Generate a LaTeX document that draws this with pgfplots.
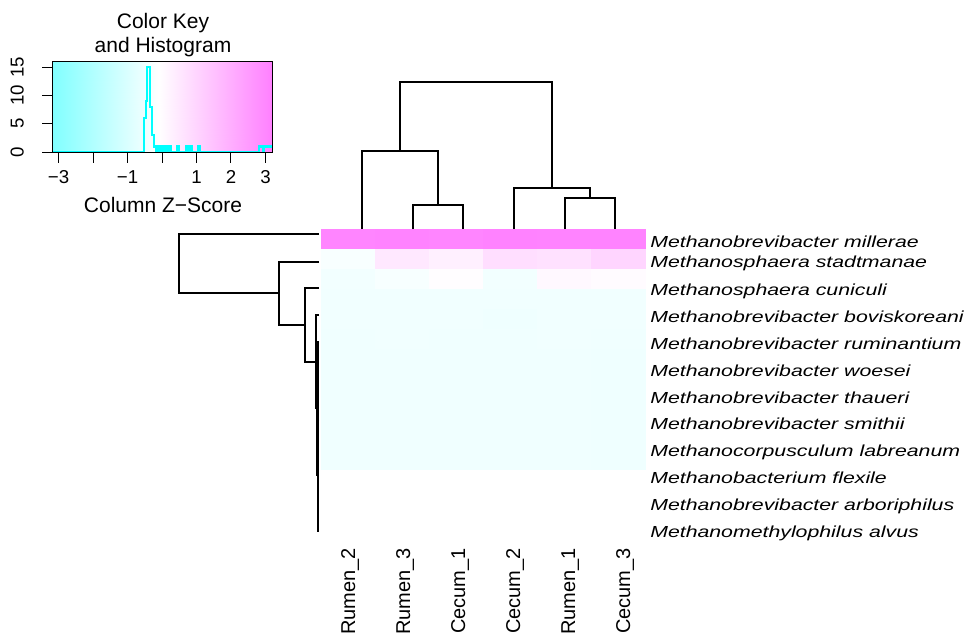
\documentclass[border=0pt]{standalone}
\usepackage{fontspec}
\setmainfont{Liberation Sans}
\newfontfamily\rowfont[FakeStretch=1.33]{Liberation Sans}
\usepackage{pgfplots}
\usepackage{pgfplotstable}
\pgfplotsset{compat=1.18}

\definecolor{histcyan}{RGB}{0,255,255}
\pgfplotsset{
  colormap={cwm}{rgb255(0cm)=(128,255,255) rgb255(3.09cm)=(255,255,255) rgb255(6.38cm)=(255,128,255)},
  dendro/.style={black, line width=1.6pt},
}

% heatmap cells: x = column centre, y = row centre (picture pixels), z = column z-score
\pgfplotstableread{
x   y    z
348 239  3.05
402 239  3.10
456 239  3.05
510 239  3.15
564 239  3.10
618 239  3.12
348 259 -0.27
402 259  0.50
456 259  0.29
510 259  0.75
564 259  0.68
618 259  1.00
348 279 -0.42
402 279 -0.30
456 279 -0.05
510 279 -0.42
564 279  0.08
618 279  0.00
348 299 -0.45
402 299 -0.44
456 299 -0.45
510 299 -0.44
564 299 -0.45
618 299 -0.45
348 319 -0.45
402 319 -0.45
456 319 -0.45
510 319 -0.48
564 319 -0.45
618 319 -0.45
348 339 -0.46
402 339 -0.45
456 339 -0.46
510 339 -0.46
564 339 -0.45
618 339 -0.47
348 359 -0.46
402 359 -0.46
456 359 -0.46
510 359 -0.46
564 359 -0.46
618 359 -0.49
348 379 -0.46
402 379 -0.46
456 379 -0.47
510 379 -0.46
564 379 -0.46
618 379 -0.49
348 399 -0.46
402 399 -0.46
456 399 -0.47
510 399 -0.46
564 399 -0.46
618 399 -0.49
348 419 -0.46
402 419 -0.46
456 419 -0.47
510 419 -0.46
564 419 -0.46
618 419 -0.49
348 439 -0.46
402 439 -0.46
456 439 -0.47
510 439 -0.46
564 439 -0.46
618 439 -0.49
348 459 -0.46
402 459 -0.46
456 459 -0.47
510 459 -0.46
564 459 -0.46
618 459 -0.49
}\heat

% histogram of the z-scores (left edge of each step, count)
\pgfplotstableread{
z      n
-3.19  0
-0.51  6
-0.475 9
-0.43  15
-0.36  8
-0.28  3
-0.24  1
-0.16  0
-0.13  1
-0.07  0
-0.04  1
0.04   0
0.10   1
0.15   0
0.21   1
0.27   0
0.44   1
0.50   0
0.70   1
0.76   0
0.82   1
0.88   0
1.05   1
1.11   0
2.82   1
2.92   0
2.97   1
3.19   1
}\hist

\begin{document}
\begin{tikzpicture}

\begin{axis}[
  at={(0,0)}, anchor=south west,
  width=725.25pt, height=480pt, scale only axis,
  xmin=0, xmax=967, ymin=0, ymax=640, y dir=reverse,
  hide axis, clip=false,
  colormap name=cwm, point meta min=-3.19, point meta max=3.19,
]
\addplot[matrix plot*, mesh/cols=6, point meta=explicit] table[x=x, y=y, meta=z] {\heat};

% column dendrogram
\addplot[dendro] coordinates {(413,229) (413,205) (463,205) (463,229)};
\addplot[dendro] coordinates {(362,229) (362,151) (438,151) (438,205)};
\addplot[dendro] coordinates {(565,229) (565,198) (615,198) (615,229)};
\addplot[dendro] coordinates {(514,229) (514,188) (590,188) (590,198)};
\addplot[dendro] coordinates {(400,151) (400,82) (552,82) (552,188)};

% row dendrogram
\addplot[dendro] coordinates {(319,234) (179,234) (179,293) (279,293)};
\addplot[dendro] coordinates {(319,262) (279,262) (279,325) (305,325)};
\addplot[dendro] coordinates {(319,288) (305,288) (305,362) (316,362)};
\addplot[dendro] coordinates {(319,315) (316,315) (316,408) (317.5,408)};
\addplot[dendro] coordinates {(319,342) (317.5,342) (317.5,475) (318,475)};
\addplot[dendro] coordinates {(319,420) (318,420) (318,531) (319,531)};

% row names
\tikzset{rowlab/.style={anchor=base west, inner sep=0pt, font=\rowfont\itshape\fontsize{12}{14}\selectfont}}
\node[rowlab] at (axis cs:650,247) {Methanobrevibacter millerae};
\node[rowlab] at (axis cs:650,267) {Methanosphaera stadtmanae};
\node[rowlab] at (axis cs:650,295) {Methanosphaera cuniculi};
\node[rowlab] at (axis cs:650,322) {Methanobrevibacter boviskoreani};
\node[rowlab] at (axis cs:650,349) {Methanobrevibacter ruminantium};
\node[rowlab] at (axis cs:650,376) {Methanobrevibacter woesei};
\node[rowlab] at (axis cs:650,403) {Methanobrevibacter thaueri};
\node[rowlab] at (axis cs:650,429) {Methanobrevibacter smithii};
\node[rowlab] at (axis cs:650,456) {Methanocorpusculum labreanum};
\node[rowlab] at (axis cs:650,483) {Methanobacterium flexile};
\node[rowlab] at (axis cs:650,510) {Methanobrevibacter arboriphilus};
\node[rowlab] at (axis cs:650,537) {Methanomethylophilus alvus};

% column names
\tikzset{collab/.style={rotate=90, anchor=base east, inner sep=0pt, font=\fontsize{15}{17}\selectfont}}
\node[collab] at (axis cs:355,548) {Rumen\_2};
\node[collab] at (axis cs:410,548) {Rumen\_3};
\node[collab] at (axis cs:465,548) {Cecum\_1};
\node[collab] at (axis cs:520,548) {Cecum\_2};
\node[collab] at (axis cs:575,548) {Rumen\_1};
\node[collab] at (axis cs:630,548) {Cecum\_3};

% key titles
\tikzset{keylab/.style={anchor=base, inner sep=0pt, font=\fontsize{15.75}{18}\selectfont}}
\node[keylab] at (axis cs:163,28.5) {Color Key};
\node[keylab] at (axis cs:163,52.3) {and Histogram};
\node[keylab] at (axis cs:163,212) {Column Z−Score};
\end{axis}

\begin{axis}[
  at={(39pt,433.5pt)}, anchor=north west,
  width=165pt, height=68.25pt, scale only axis,
  xmin=-3.19, xmax=3.19, ymin=-0.15, ymax=15.9,
  colormap name=cwm, point meta min=-3.19, point meta max=3.19,
  axis on top,
  tick align=outside, tick pos=left,
  major tick length=7.5pt,
  axis line style={black, line width=0.75pt},
  tick style={black, line width=0.75pt},
  xtick={-3,-2,-1,0,1,2,3},
  xticklabels={−3,,−1,,1,2,3},
  ytick={0,5,10,15},
  yticklabels={0,5,10,15},
  ticklabel style={font=\fontsize{14}{16}\selectfont},
  xticklabel style={anchor=north, yshift=-2pt},
  yticklabel style={rotate=90, anchor=south, inner ysep=13.5pt},
]
\addplot[surf, shader=interp, mesh/rows=2, point meta=x] coordinates {
  (-3.19,-0.15) (3.19,-0.15)
  (-3.19,15.9) (3.19,15.9)
};
\addplot[const plot, histcyan, line width=1.6pt] table[x=z, y=n] {\hist};
\end{axis}

\pgfresetboundingbox
\path[use as bounding box] (0,0) rectangle (725.25pt,480pt);
\end{tikzpicture}
\end{document}
